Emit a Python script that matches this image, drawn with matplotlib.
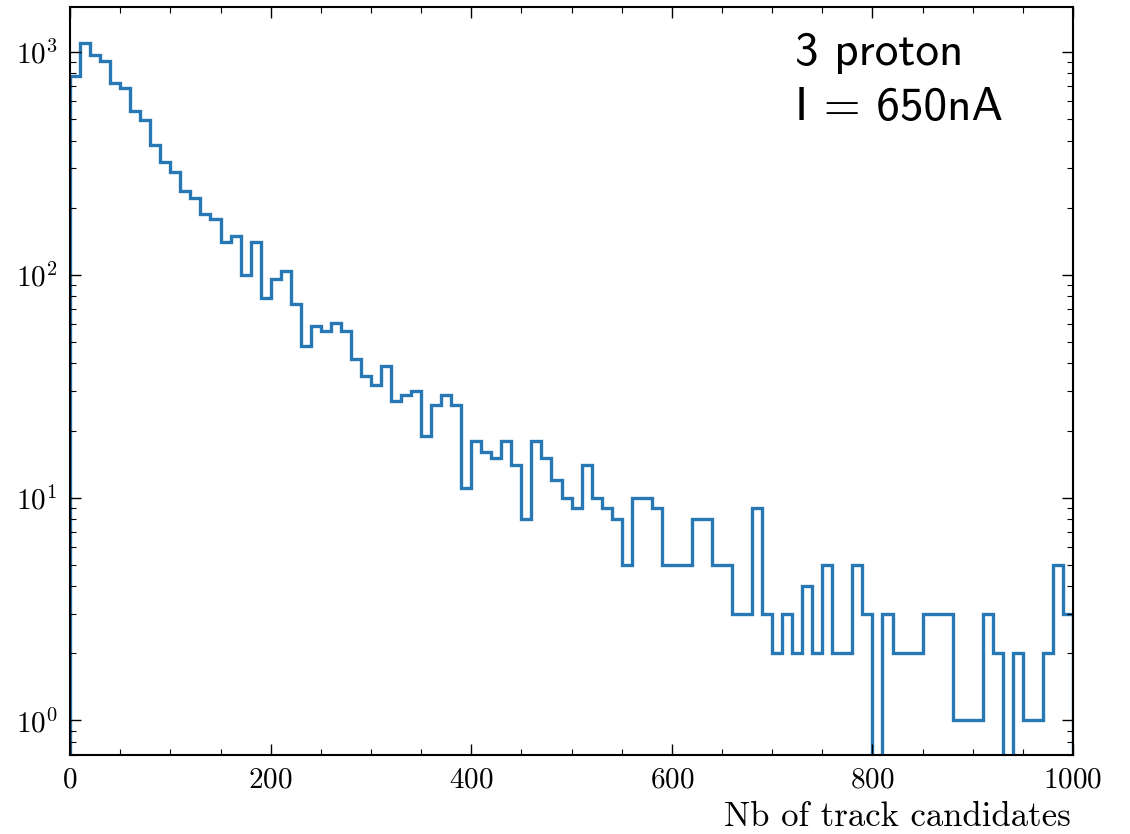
import matplotlib

matplotlib.use("Agg")
import matplotlib.pyplot as plt
import numpy as np
from matplotlib.ticker import MultipleLocator

# bin edges: 100 bins of width 10 between 0 and 1000
edges = np.arange(0, 1001, 10)

# counts per bin
counts = [
    780, 1100, 967, 912, 728, 692, 543, 494, 382, 319,
    288, 237, 220, 187, 177, 141, 150, 100, 140, 79,
    96, 104, 74, 48, 59, 56, 61, 56, 42, 35,
    32, 39, 27, 29, 30, 19, 26, 29, 26, 11,
    18, 16, 15, 18, 14, 8, 18, 15, 12, 10,
    9, 14, 10, 9, 8, 5, 10, 10, 9, 5,
    5, 5, 8, 8, 5, 5, 3, 3, 9, 3,
    2, 3, 2, 4, 2, 5, 2, 2, 5, 3,
    0, 3, 2, 2, 2, 3, 3, 3, 1, 1,
    1, 3, 2, 0, 2, 1, 1, 2, 5, 3,
]

label_lines = ["3 proton", "I = 650nA"]
xlabel = "Nb of track candidates"

plt.rcParams["font.family"] = "serif"
plt.rcParams["font.serif"] = ["cmr10"]
plt.rcParams["mathtext.fontset"] = "cm"
plt.rcParams["axes.formatter.use_mathtext"] = True
plt.rcParams["axes.unicode_minus"] = False

fig = plt.figure(figsize=(11.3, 8.34), dpi=100)
ax = fig.add_axes([0.062, 0.0947, 0.8876, 0.8969])

ax.stairs(counts, edges, color="#2878b5", linewidth=2.4)
ax.set_yscale("log")
ax.set_xlim(0, 1000)
ax.set_ylim(0.70, 1590)

ax.xaxis.set_major_locator(MultipleLocator(200))
ax.xaxis.set_minor_locator(MultipleLocator(50))
ax.tick_params(which="both", direction="in", top=True, right=True)
ax.tick_params(which="major", length=8, width=1.0, labelsize=21, pad=9)
ax.tick_params(which="minor", length=4, width=0.8)
for s in ax.spines.values():
    s.set_linewidth(1.5)

ax.set_xlabel(xlabel, fontsize=25, ha="right", va="baseline")
ax.xaxis.set_label_coords(0.998, -0.095)

# two-line annotation in sans serif (LaTeX \textsf look)
for text, yb in zip(label_lines, [0.9225, 0.849]):
    ax.text(0.7228, yb, text, transform=ax.transAxes, ha="left", va="baseline",
            fontsize=34, family="cmss10")

fig.savefig("out.png", dpi=100)
plt.close(fig)
